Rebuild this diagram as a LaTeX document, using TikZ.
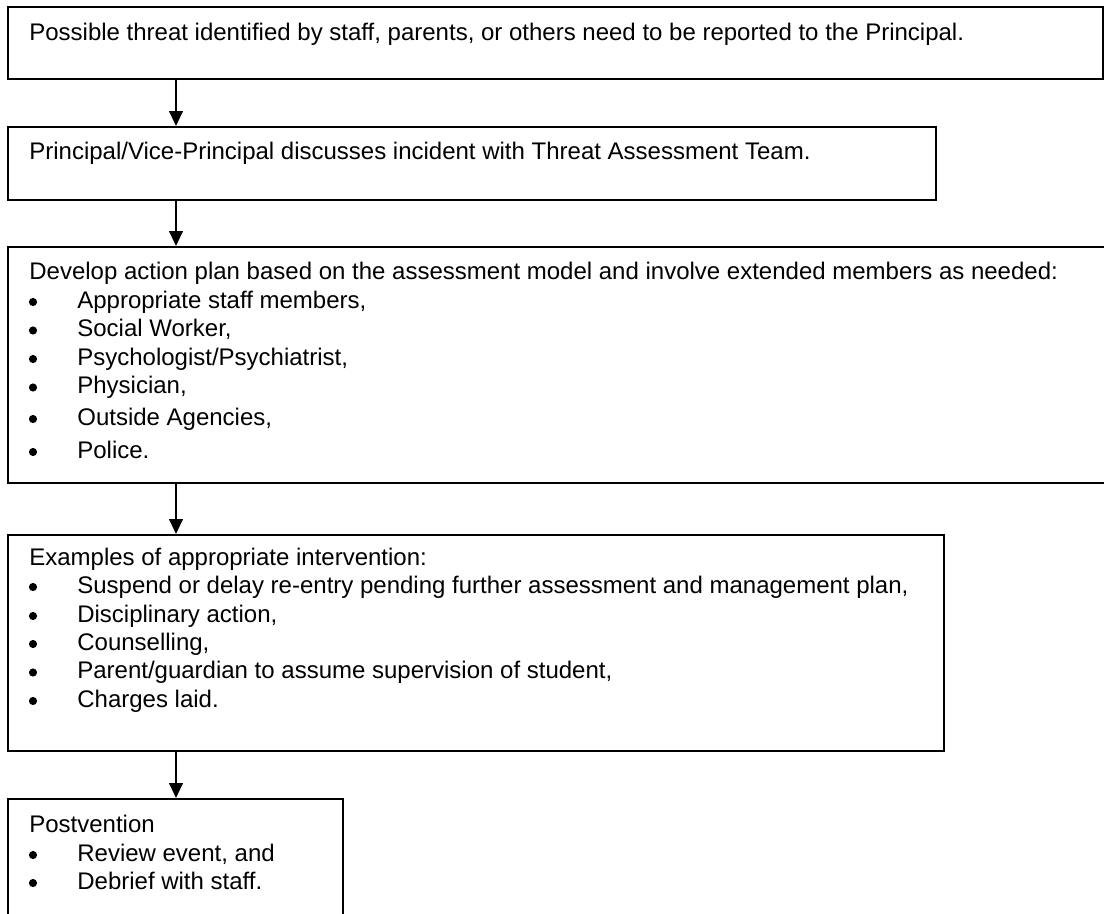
\documentclass[tikz,border=0pt]{standalone}
\usepackage{fontspec}
\setmainfont{Liberation Sans}
\usetikzlibrary{fit,arrows.meta}
\tikzset{
  box/.style={draw=black, line width=1.2pt, inner sep=0pt},
  txt/.style={inner sep=0pt, anchor=base west, font=\fontsize{14.4pt}{17pt}\selectfont},
  dot/.style={circle, fill=black, inner sep=0pt, minimum size=4.9pt},
  arr/.style={line width=1.2pt, -{Triangle[width=8.2pt,length=9pt]}}
}
\newcommand{\itm}[3]{\node[dot] (#1b) at (33,#2-6) {};\node[txt] (#1) at (77,#2) {#3};}
\begin{document}
\begin{tikzpicture}[x=0.6pt,y=-0.6pt]
\clip (0,0) rectangle (1104,913);
\fill[white] (0,0) rectangle (1104,913);
% boxes
\node[box, fit={(8,7) (1103,79)}] (b1) {};
\node[box, fit={(8,127) (936,200)}] (b2) {};
\node[box, fit={(8,247) (1112,483)}] (b3) {};
\node[box, fit={(8,535) (944,751)}] (b4) {};
\node[box, fit={(8,799) (343,940)}] (b5) {};
\coordinate (ax) at (176,0);
% connectors
\draw[arr] (b1.south -| ax) -- (b2.north -| ax);
\draw[arr] (b2.south -| ax) -- (b3.north -| ax);
\draw[arr] (b3.south -| ax) -- (b4.north -| ax);
\draw[arr] (b4.south -| ax) -- (b5.north -| ax);
% texts
\node[txt] (t1) at (29,40) {Possible threat identified by staff, parents, or others need to be reported to the Principal.};
\node[txt] (t2) at (29,159) {Principal/Vice-Principal discusses incident with Threat Assessment Team.};
\node[txt] (t3) at (29,279) {Develop action plan based on the assessment model and involve extended members as needed:};
\itm{t3a}{308}{Appropriate staff members,}
\itm{t3b}{336.5}{Social Worker,}
\itm{t3c}{365}{Psychologist/Psychiatrist,}
\itm{t3d}{393.5}{Physician,}
\itm{t3e}{425}{Outside Agencies,}
\itm{t3f}{458}{Police.}
\node[txt] (t4) at (29,565) {Examples of appropriate intervention:};
\itm{t4a}{593}{Suspend or delay re-entry pending further assessment and management plan,}
\itm{t4b}{622}{Disciplinary action,}
\itm{t4c}{650}{Counselling,}
\itm{t4d}{678.5}{Parent/guardian to assume supervision of student,}
\itm{t4e}{707}{Charges laid.}
\node[txt] (t5) at (29,832) {Postvention};
\itm{t5a}{861}{Review event, and}
\itm{t5b}{889}{Debrief with staff.}
\end{tikzpicture}
\end{document}
